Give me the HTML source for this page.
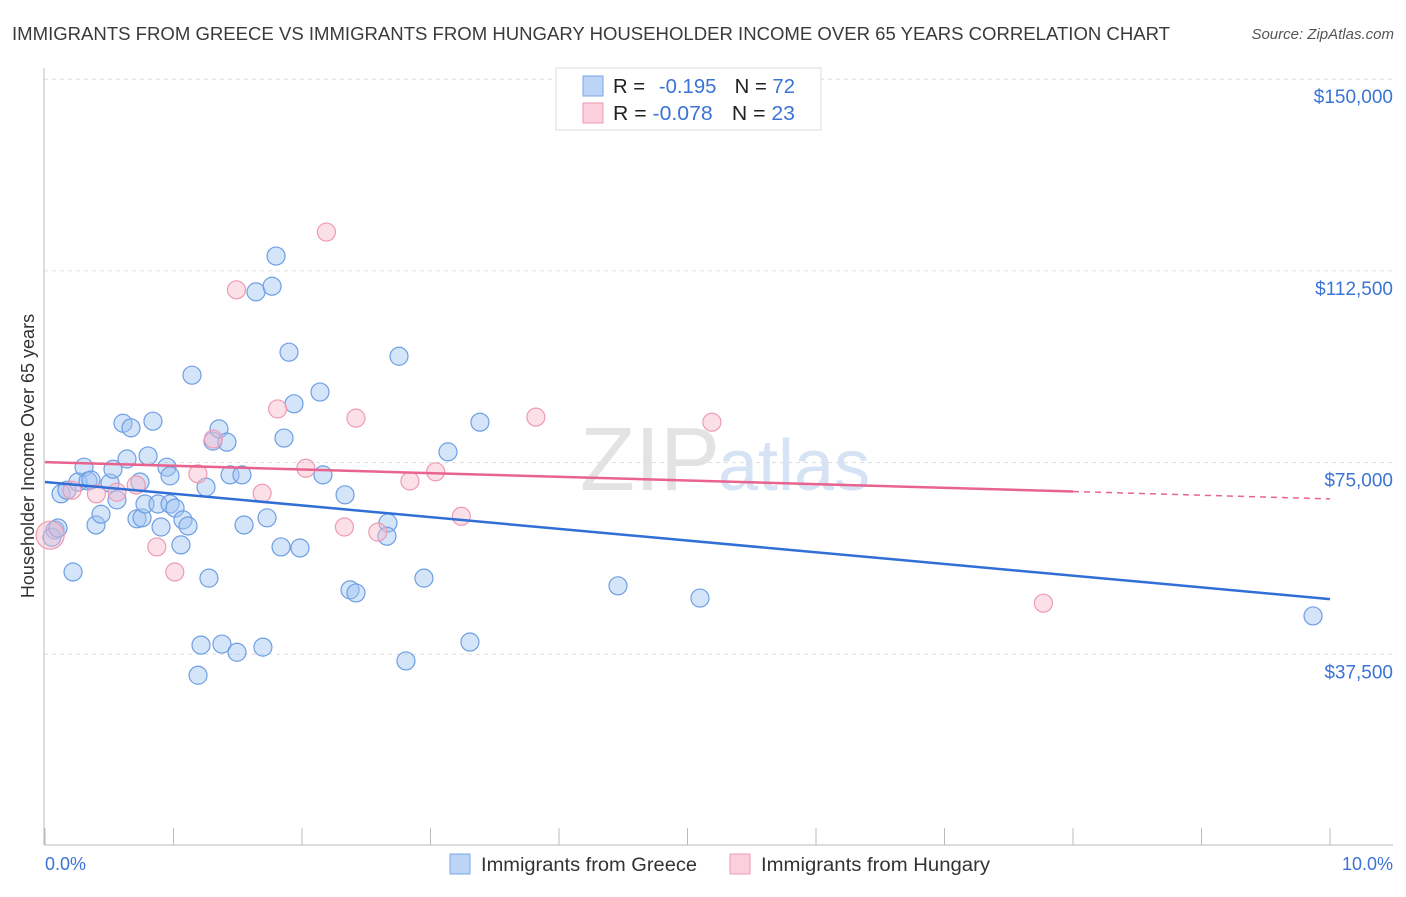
<!DOCTYPE html>
<html><head><meta charset="utf-8"><style>
body{margin:0;background:#fff;font-family:"Liberation Sans",sans-serif;}
svg text{font-family:"Liberation Sans",sans-serif;}
</style></head><body>
<svg id="c" width="1406" height="892">
<text x="12" y="40" font-size="18.5" fill="#3a3a3a" textLength="1158" lengthAdjust="spacingAndGlyphs">IMMIGRANTS FROM GREECE VS IMMIGRANTS FROM HUNGARY HOUSEHOLDER INCOME OVER 65 YEARS CORRELATION CHART</text>
<text x="1394" y="39" font-size="15" fill="#555" text-anchor="end" font-style="italic">Source: ZipAtlas.com</text>
<text x="720" y="490" font-size="90" fill="#e3e3e3" text-anchor="end" font-family="Liberation Serif">ZIP</text>
<text x="718" y="490" font-size="72" fill="#d6e3f5">atlas</text>
<g id="grid"></g><g id="pts"></g><g id="lines"></g>
<text transform="translate(34,456) rotate(-90)" font-size="18" fill="#333" text-anchor="middle">Householder Income Over 65 years</text>
<text x="45" y="870" font-size="18" fill="#3b73d6">0.0%</text>
<text x="1393" y="870" font-size="18" fill="#3b73d6" text-anchor="end">10.0%</text>
<g>
<rect x="450" y="854" width="20" height="20" fill="#bcd4f6" stroke="#7aa6e6"/>
<text x="481" y="871" font-size="19" fill="#333" textLength="216" lengthAdjust="spacingAndGlyphs">Immigrants from Greece</text>
<rect x="730" y="854" width="20" height="20" fill="#fbd0dc" stroke="#ee9ab3"/>
<text x="761" y="871" font-size="19" fill="#333" textLength="229" lengthAdjust="spacingAndGlyphs">Immigrants from Hungary</text>
</g>
<g>
<rect x="556" y="68" width="265" height="62" fill="#fff" stroke="#ddd"/>
<rect x="583" y="76" width="20" height="20" fill="#bcd4f6" stroke="#7aa6e6"/>
<text x="613" y="93" font-size="20" fill="#222" textLength="182" lengthAdjust="spacingAndGlyphs">R = <tspan fill="#3b73d6" dx="8">-0.195</tspan><tspan dx="18">N = </tspan><tspan fill="#3b73d6">72</tspan></text>
<rect x="583" y="103" width="20" height="20" fill="#fbd0dc" stroke="#ee9ab3"/>
<text x="613" y="120" font-size="20" fill="#222" textLength="182" lengthAdjust="spacingAndGlyphs">R = <tspan fill="#3b73d6">-0.078</tspan><tspan dx="18">N = </tspan><tspan fill="#3b73d6">23</tspan></text>
</g>
</svg>
<script>
const yTicks=[37500,75000,112500,150000];
const yTickLabels=["$37,500","$75,000","$112,500","$150,000"];
const xTicks=[0,1,2,3,4,5,6,7,8,9,10];
const greeceX=[0.078,0.054,0.101,0.125,0.171,0.218,0.257,0.304,0.335,0.358,0.397,0.436,0.506,0.529,0.560,0.607,0.638,0.669,0.716,0.739,0.755,0.778,0.802,0.840,0.879,0.903,0.949,0.973,0.973,1.012,1.058,1.074,1.113,1.144,1.191,1.214,1.253,1.276,1.307,1.354,1.377,1.416,1.440,1.494,1.533,1.549,1.642,1.696,1.728,1.767,1.798,1.837,1.860,1.899,1.938,1.984,2.140,2.163,2.335,2.374,2.420,2.669,2.661,2.755,2.809,2.949,3.136,3.307,3.385,4.459,5.097,9.868];
const greeceY=[61.8,60.4,62.2,68.9,69.6,53.6,71.2,74.1,71.4,71.6,62.8,64.9,71.0,73.7,67.7,82.7,75.7,81.8,64.0,71.2,64.2,66.9,76.3,83.1,66.9,62.4,74.1,66.9,72.4,66.1,58.9,63.8,62.6,92.1,33.4,39.3,70.2,52.4,79.2,81.6,39.5,79.0,72.6,37.9,72.6,62.8,108.4,38.9,64.2,109.5,115.4,58.5,79.8,96.6,86.5,58.3,88.8,72.6,68.7,50.1,49.5,63.2,60.6,95.8,36.2,52.4,77.1,39.9,82.9,50.9,48.5,45.0];
const hungaryX=[0.04,0.21,0.40,0.56,0.71,0.87,1.01,1.19,1.31,1.49,1.69,1.81,2.03,2.19,2.33,2.42,2.59,2.84,3.04,3.24,3.82,5.19,7.77];
const hungaryY=[60.8,69.6,68.9,69.2,70.6,58.5,53.6,72.8,79.6,108.8,69.0,85.5,73.9,120.1,62.4,83.7,61.4,71.4,73.2,64.5,83.9,82.9,47.5];
const greeceTrend=[71.2,48.3];
const hungaryTrend=[75.1,67.9];
const X=v=>45+v*128.5, Y=v=>846-v/37500*191.7, Yk=v=>Y(v*1000);
const NS="http://www.w3.org/2000/svg";
function mk(t,a,p){const e=document.createElementNS(NS,t);for(const k in a)e.setAttribute(k,a[k]);p.appendChild(e);return e;}
const g=document.getElementById('grid');
yTicks.forEach((t,i)=>{
 const l=mk('line',{x1:44,x2:1393,y1:Y(t),y2:Y(t),stroke:'#ddd','stroke-dasharray':'4,4'},g);
 
 
 const tx=mk('text',{x:1393,y:Y(t)+24,'font-size':19,fill:'#3b73d6','text-anchor':'end'},g);
 tx.textContent=yTickLabels[i];
 
 
});
const ax=mk('line',{x1:44,x2:44,y1:68,y2:845,stroke:'#bbb'},g);


const bx=mk('line',{x1:44,x2:1393,y1:845,y2:845,stroke:'#bbb'},g);


xTicks.forEach(t=>{
 const l=mk('line',{x1:X(t),x2:X(t),y1:828,y2:845,stroke:'#bbb'},g);
 
 
});
const p=document.getElementById('pts');
greeceX.forEach((x,i)=>{
 const c=mk('circle',{cx:X(x),cy:Yk(greeceY[i]),r:9,fill:'rgba(160,196,242,0.45)',stroke:'#6e9fe2','stroke-width':1.2},p);
 
 
});
hungaryX.forEach((x,i)=>{
 const c=mk('circle',{cx:X(x),cy:Yk(hungaryY[i]),r:i==0?14:9,fill:'rgba(248,186,205,0.45)',stroke:'#ee9ab3','stroke-width':1.2},p);
 
 
});
const L=document.getElementById('lines');
const bl=mk('line',{x1:X(0),y1:Yk(greeceTrend[0]),x2:X(10),y2:Yk(greeceTrend[1]),stroke:'#2f6fd6','stroke-width':2.5},L);


const f=8/10, hm=hungaryTrend[0]+(hungaryTrend[1]-hungaryTrend[0])*f;
const pl=mk('line',{x1:X(0),y1:Yk(hungaryTrend[0]),x2:X(8),y2:Yk(hm),stroke:'#e8648e','stroke-width':2.5},L);


const pd=mk('line',{x1:X(8),y1:Yk(hm),x2:X(10),y2:Yk(hungaryTrend[1]),stroke:'#e8648e','stroke-width':1.5,'stroke-dasharray':'6,5'},L);


</script>
</body></html>
